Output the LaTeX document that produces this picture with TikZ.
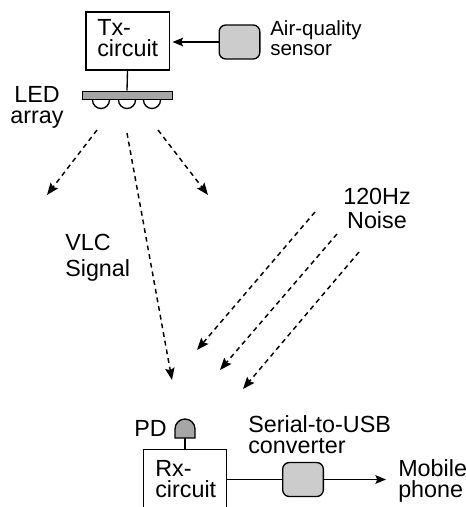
\documentclass[tikz,border=0pt]{standalone}
\usepackage{fontspec}
\setmainfont{Liberation Sans}
\usetikzlibrary{arrows.meta}
\tikzset{
    label text/.style={font=\fontsize{17.5}{16.2}\selectfont, inner sep=0pt, align=left},
    circuit/.style={draw, line width=1pt, inner sep=0pt, minimum width=62.5pt},
    module/.style={draw, line width=1pt, fill=black!20, rounded corners=5pt, inner sep=0pt, minimum width=30.5pt, minimum height=25.5pt},
    wire/.style={line width=1pt},
    signal/.style={wire, -{Stealth[length=8pt,width=6.5pt,inset=1.5pt]}},
    beam/.style={line width=1.1pt, dash pattern=on 3.6pt off 3pt, -{Stealth[length=9pt,width=7pt,inset=1.5pt]}}
}
\begin{document}
\begin{tikzpicture}[x=0.75pt,y=-0.75pt]
        \useasboundingbox (0,0) rectangle (466,507);
        \clip (0,0) rectangle (466,507);

        % Transmitter side
        \node[circuit, minimum height=43.5pt] (tx) at (127.5,41) {};
        \node[module] (sensor) at (239.5,42) {};
        \node[draw, line width=0.7pt, fill=black!35, inner sep=0pt, minimum width=67.5pt, minimum height=6.5pt] (bar) at (127,95.5) {};
        \draw[signal, shorten >=2pt] (sensor.west) -- (sensor.west -| tx.east);
        \draw[wire] (tx.south) -- (bar.north);

        % LEDs under the bar
        \foreach \ledx in {101,127,152} {
            \draw[wire] (\ledx-8.5,100) arc (180:0:8.5);
        }

        % Receiver side
        \node[circuit, minimum height=50pt] (rx) at (185,483) {};
        \node[module] (converter) at (303,479.5) {};
        \coordinate (phone) at (386,479.5);
        \draw[wire] (rx.east |- converter.west) -- (converter.west);
        \draw[signal] (converter.east) -- (phone);

        % Photodiode
        \coordinate (pdbase) at (185,438);
        \draw[wire] (pdbase) -- (rx.north);
        \draw[line width=1pt, fill=black!35] (175,438) -- (175,429) arc (180:360:10) -- (195,438) -- cycle;

        % VLC beams
        \coordinate (ledleft) at (97,130);
        \coordinate (ledmid) at (127,133);
        \coordinate (ledright) at (158,130);
        \coordinate (endleft) at (47,195);
        \coordinate (endmid) at (172,380);
        \coordinate (endright) at (208,195);
        \draw[beam] (ledleft) -- (endleft);
        \draw[beam] (ledmid) -- (endmid);
        \draw[beam] (ledright) -- (endright);

        % Noise beams
        \coordinate (noiseA) at (315,212);
        \coordinate (noiseB) at (337,234);
        \coordinate (noiseC) at (359,252);
        \coordinate (pdA) at (197,350);
        \coordinate (pdB) at (220,370);
        \coordinate (pdC) at (243,389);
        \draw[beam] (noiseA) -- (pdA);
        \draw[beam] (noiseB) -- (pdB);
        \draw[beam] (noiseC) -- (pdC);

        % Labels
        \node[label text, anchor=north west] (txtext) at (97,19) {Tx-\\circuit};
        \node[label text, anchor=north west, font=\fontsize{15.4}{15}\selectfont] (sensortext) at (270,20) {Air-quality\\sensor};
        \node[label text, anchor=north, align=center] (ledtext) at (37,86) {LED\\array};
        \node[label text, anchor=north west, font=\fontsize{17.5}{19.5}\selectfont] (vlctext) at (65,234) {VLC\\Signal};
        \node[label text, anchor=north, align=center, font=\fontsize{17.5}{18}\selectfont] (noisetext) at (377,188) {120Hz\\Noise};
        \node[label text, anchor=base east] (pdtext) at (167,436) {PD};
        \node[label text, anchor=north west] (serialtext) at (248,415) {Serial-to-USB\\converter};
        \node[label text, anchor=north west] (rxtext) at (155,460) {Rx-\\circuit};
        \node[label text, anchor=north west] (phonetext) at (398,459) {Mobile\\phone};
    \end{tikzpicture}
\end{document}
